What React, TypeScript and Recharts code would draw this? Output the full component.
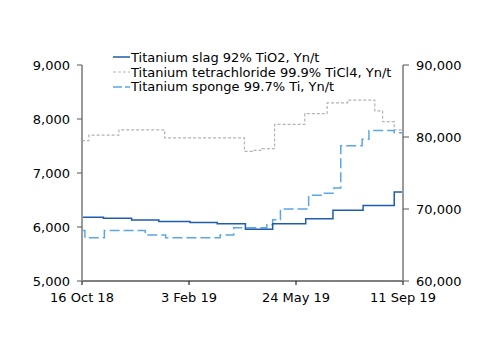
import { ComposedChart, Line, XAxis, YAxis } from 'recharts'

// step dates + prices (Yn/t)
const slagDates = [
  '2018-10-16', '2018-11-07', '2018-12-06', '2019-01-03', '2019-02-04', '2019-03-04',
  '2019-04-02', '2019-04-30', '2019-06-03', '2019-07-01', '2019-08-01', '2019-09-02', '2019-09-11',
]
const slagValues = [6180, 6160, 6130, 6100, 6085, 6060, 5960, 6060, 6155, 6310, 6400, 6650, 6650]

const ticl4Dates = [
  '2018-10-16', '2018-10-23', '2018-11-23', '2019-01-09', '2019-04-01', '2019-04-09',
  '2019-04-19', '2019-05-02', '2019-06-02', '2019-06-25', '2019-07-16', '2019-08-13',
  '2019-08-21', '2019-09-02', '2019-09-11',
]
const ticl4Values = [7600, 7700, 7800, 7650, 7400, 7420, 7450, 7900, 8100, 8300, 8350, 8150, 7950, 7800, 7800]

const spongeDates = [
  '2018-10-16', '2018-10-19', '2018-11-08', '2018-12-20', '2019-01-10', '2019-03-07',
  '2019-03-21', '2019-04-24', '2019-04-30', '2019-05-08', '2019-06-06', '2019-06-22',
  '2019-07-02', '2019-07-09', '2019-07-31', '2019-08-07', '2019-09-02', '2019-09-11',
]
const spongeValues = [
  67000, 66000, 67000, 66400, 66000, 66400, 67400, 67800, 68500, 70000, 71900, 72200,
  72900, 78800, 79700, 80900, 80600, 80600,
]

const xTickDates = ['2018-10-16', '2019-02-03', '2019-05-24', '2019-09-11']
const leftTicks = [5000, 6000, 7000, 8000, 9000]
const rightTicks = [60000, 70000, 80000, 90000]

const MONTHS = ['Jan', 'Feb', 'Mar', 'Apr', 'May', 'Jun', 'Jul', 'Aug', 'Sep', 'Oct', 'Nov', 'Dec']
const FONT = '"DejaVu Sans", Verdana, sans-serif'

const SLAG_COLOR = '#1f5cb0'
const TICL4_COLOR = '#b3b3b3'
const SPONGE_COLOR = '#5aa7e6'

function toTime(iso: string): number {
  const [y, m, d] = iso.split('-').map(Number)
  return Date.UTC(y, m - 1, d)
}

function toSeries(dates: string[], values: number[]) {
  return dates.map((d, i) => ({ t: toTime(d), v: values[i] }))
}

function formatDate(t: number): string {
  const d = new Date(t)
  return `${d.getUTCDate()} ${MONTHS[d.getUTCMonth()]} ${String(d.getUTCFullYear()).slice(2)}`
}

const slagData = toSeries(slagDates, slagValues)
const ticl4Data = toSeries(ticl4Dates, ticl4Values)
const spongeData = toSeries(spongeDates, spongeValues)
const xTicks = xTickDates.map(toTime)

const legendItems = [
  { label: 'Titanium slag 92% TiO2, Yn/t', color: SLAG_COLOR, dash: undefined, width: 1.5 },
  { label: 'Titanium tetrachloride 99.9% TiCl4, Yn/t', color: TICL4_COLOR, dash: '3 2', width: 1.2 },
  { label: 'Titanium sponge 99.7% Ti, Yn/t', color: SPONGE_COLOR, dash: '9 3', width: 1.5 },
]

function ChartLegend() {
  return (
    <div style={{ position: 'absolute', left: 113, top: 50, fontFamily: FONT, fontSize: 13, color: '#000' }}>
      {legendItems.map((item) => (
        <div key={item.label} style={{ display: 'flex', alignItems: 'center', height: 14.7, whiteSpace: 'nowrap' }}>
          <svg width={17} height={4} style={{ marginRight: 1 }}>
            <line x1={0} y1={2} x2={17} y2={2} stroke={item.color} strokeWidth={item.width} strokeDasharray={item.dash} />
          </svg>
          <span>{item.label}</span>
        </div>
      ))}
    </div>
  )
}

export default function App() {
  const tickStyle = { fontSize: 13, fill: '#000', fontFamily: FONT }
  return (
    <div style={{ position: 'absolute', left: 0, top: 0, width: 500, height: 354, background: '#fff', fontFamily: FONT }}>
      <ComposedChart width={500} height={354} margin={{ top: 65, right: 0, left: 0, bottom: 0 }}>
        <XAxis
          dataKey="t"
          type="number"
          domain={[xTicks[0], xTicks[xTicks.length - 1]]}
          ticks={xTicks}
          tickFormatter={(v) => formatDate(Number(v))}
          height={73}
          tick={tickStyle}
          tickSize={4}
          tickMargin={8}
          axisLine={{ stroke: '#000', strokeWidth: 1 }}
          tickLine={{ stroke: '#000' }}
          allowDuplicatedCategory={false}
        />
        <YAxis
          yAxisId="left"
          orientation="left"
          domain={[5000, 9000]}
          ticks={leftTicks}
          width={82}
          tick={tickStyle}
          tickSize={5}
          tickMargin={7}
          tickFormatter={(v) => Number(v).toLocaleString('en-US')}
          axisLine={{ stroke: '#9a9a9a', strokeWidth: 2 }}
          tickLine={{ stroke: '#555' }}
        />
        <YAxis
          yAxisId="right"
          orientation="right"
          domain={[60000, 90000]}
          ticks={rightTicks}
          width={97}
          tick={tickStyle}
          tickSize={6}
          tickMargin={7}
          tickFormatter={(v) => Number(v).toLocaleString('en-US')}
          axisLine={{ stroke: '#9a9a9a', strokeWidth: 2 }}
          tickLine={{ stroke: '#555' }}
        />
        <Line
          yAxisId="left"
          data={ticl4Data}
          dataKey="v"
          type="stepAfter"
          stroke={TICL4_COLOR}
          strokeWidth={1.2}
          strokeDasharray="3 2"
          dot={false}
          isAnimationActive={false}
        />
        <Line
          yAxisId="right"
          data={spongeData}
          dataKey="v"
          type="stepAfter"
          stroke={SPONGE_COLOR}
          strokeWidth={1.5}
          strokeDasharray="10 4"
          dot={false}
          isAnimationActive={false}
        />
        <Line
          yAxisId="left"
          data={slagData}
          dataKey="v"
          type="stepAfter"
          stroke={SLAG_COLOR}
          strokeWidth={1.5}
          dot={false}
          isAnimationActive={false}
        />
      </ComposedChart>
      <ChartLegend />
    </div>
  )
}
